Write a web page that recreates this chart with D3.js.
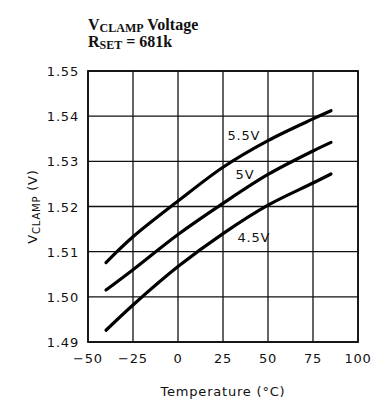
<!DOCTYPE html>
<html>
<head>
<meta charset="utf-8">
<script src="https://cdn.jsdelivr.net/npm/d3@7"></script>
<style>
    body { margin: 0; background: #fff; }
    svg { display: block; }
    .tick-label { font-family: "DejaVu Sans", sans-serif; font-size: 13px; letter-spacing: 0.8px; fill: #111; }
    .title { font-family: "Liberation Serif", serif; font-weight: bold; font-size: 16px; fill: #111; }
</style>
</head>
<body>
<div id="chart"></div>
<script>
// temperatures (deg C) at which the curves were read
const temperatures = [-40, -25, 0, 25, 50, 75, 85];

// V_CLAMP values for each supply voltage
const vclamp_55 = [1.5076, 1.5133, 1.5212, 1.5287, 1.5346, 1.5394, 1.5412];
const vclamp_50 = [1.5015, 1.5060, 1.5138, 1.5207, 1.5271, 1.5323, 1.5342];
const vclamp_45 = [1.4926, 1.4982, 1.5067, 1.5140, 1.5203, 1.5252, 1.5272];

const series_names = ["5.5V", "5V", "4.5V"];

const x_ticks = [-50, -25, 0, 25, 50, 75, 100];
const y_ticks = [1.49, 1.50, 1.51, 1.52, 1.53, 1.54, 1.55];

const width = 376, height = 406;
const margin = {top: 71, right: 18, bottom: 64, left: 88};

let svg = d3.select("#chart")
    .append("svg")
    .attr("width", width)
    .attr("height", height);

let x = d3.scaleLinear()
    .domain([-50, 100])
    .range([margin.left, width - margin.right]);

let y = d3.scaleLinear()
    .domain([1.49, 1.55])
    .range([height - margin.bottom, margin.top]);

// grid
let grid = svg.append("g");
grid.selectAll("line.vx")
    .data(x_ticks)
    .enter().append("line")
    .attr("x1", d => x(d)).attr("x2", d => x(d))
    .attr("y1", y(1.49)).attr("y2", y(1.55))
    .attr("stroke", "#111").attr("stroke-width", 1.3);
grid.selectAll("line.hy")
    .data(y_ticks)
    .enter().append("line")
    .attr("x1", x(-50)).attr("x2", x(100))
    .attr("y1", d => y(d)).attr("y2", d => y(d))
    .attr("stroke", "#111").attr("stroke-width", 1.3);

svg.append("rect")
    .attr("x", x(-50)).attr("y", y(1.55))
    .attr("width", x(100) - x(-50))
    .attr("height", y(1.49) - y(1.55))
    .attr("fill", "none")
    .attr("stroke", "#111")
    .attr("stroke-width", 1.8);

// tick labels
svg.selectAll("text.xt")
    .data(x_ticks)
    .enter().append("text")
    .attr("class", "tick-label")
    .attr("x", d => x(d))
    .attr("y", height - margin.bottom + 21)
    .attr("text-anchor", "middle")
    .text(d => d < 0 ? "\u2212" + Math.abs(d) : d);

svg.selectAll("text.yt")
    .data(y_ticks)
    .enter().append("text")
    .attr("class", "tick-label")
    .attr("x", margin.left - 9)
    .attr("y", d => y(d) + 5)
    .attr("text-anchor", "end")
    .text(d => d.toFixed(2));

// axis titles
svg.append("text")
    .attr("class", "tick-label")
    .attr("x", (x(-50) + x(100)) / 2)
    .attr("y", height - 10)
    .attr("text-anchor", "middle")
    .text("Temperature (\u00B0C)");

let ylab = svg.append("text")
    .attr("class", "tick-label")
    .attr("transform", "translate(37," + ((y(1.49) + y(1.55)) / 2) + ") rotate(-90)")
    .attr("text-anchor", "middle");
ylab.append("tspan").text("V");
ylab.append("tspan").attr("font-size", "10px").attr("dy", 3).text("CLAMP");
ylab.append("tspan").attr("dy", -3).text(" (V)");

// title
let t1 = svg.append("text").attr("class", "title").attr("x", x(-50)).attr("y", 30);
t1.append("tspan").text("V");
t1.append("tspan").attr("font-size", "12px").attr("dy", 2).text("CLAMP");
t1.append("tspan").attr("dy", -2).text(" Voltage");

let t2 = svg.append("text").attr("class", "title").attr("x", x(-50)).attr("y", 47);
t2.append("tspan").text("R");
t2.append("tspan").attr("font-size", "12px").attr("dy", 2).text("SET");
t2.append("tspan").attr("dy", -2).text(" = 681k");

// curves
const all_series = [vclamp_55, vclamp_50, vclamp_45];
let line = d3.line()
    .x((d, i) => x(temperatures[i]))
    .y(d => y(d))
    .curve(d3.curveCatmullRom);

svg.append("g").selectAll("path")
    .data(all_series)
    .enter().append("path")
    .attr("d", line)
    .attr("fill", "none")
    .attr("stroke", "#000")
    .attr("stroke-width", 3.2)
    .attr("stroke-linecap", "round");

// curve labels, anchored in data coordinates
const label_at = [[27.5, 1.5347], [32, 1.526], [33, 1.5122]];
svg.selectAll("text.curve")
    .data(series_names)
    .enter().append("text")
    .attr("class", "tick-label")
    .attr("x", (d, i) => x(label_at[i][0]))
    .attr("y", (d, i) => y(label_at[i][1]))
    .text(d => d);
</script>
</body>
</html>
